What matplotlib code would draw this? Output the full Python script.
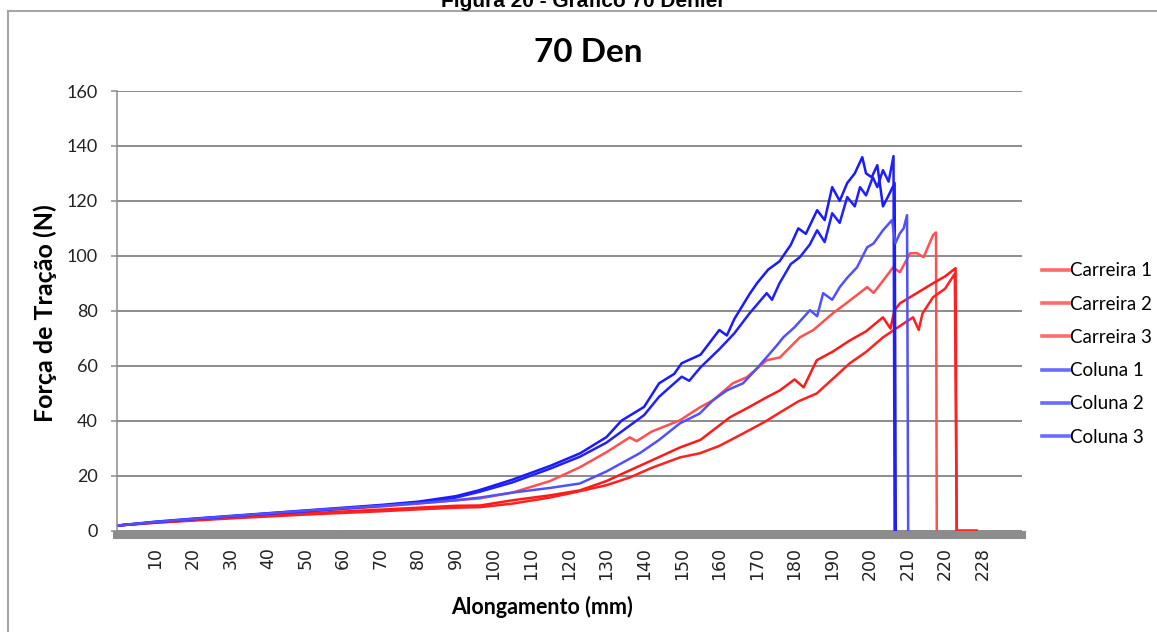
"""
plot.py

Tensile test curves for the 70 denier yarn: traction force against elongation,
three "Carreira" samples (red) and three "Coluna" samples (blue).
Writes out.png.
"""

import matplotlib.pyplot as plt
from matplotlib.lines import Line2D

OUT_PATH = "out.png"

# Elongation (mm) / force (N)
carreira1_x = [0, 10, 20, 30, 40, 50, 60, 70, 80, 90, 96.4, 105, 115, 122.9, 130, 136.2,
               138, 142, 149.5, 154.8, 158.3, 163.6, 167.3, 172.6, 176.1, 181.4, 185,
               190.2, 194, 199.3, 201, 203, 206.2, 208, 210.7, 212.5, 214.3, 216.8,
               217.6, 217.8]
carreira1_y = [1.8, 3.0, 4.0, 5.0, 6.0, 6.9, 7.8, 8.7, 9.8, 11.0, 11.7, 13.8, 18.0, 23.0,
               28.5, 33.9, 32.5, 36.0, 40.1, 44.8, 47.4, 53.6, 55.8, 62.0, 63.0, 70.3,
               73.0, 79.1, 83.0, 88.6, 86.5, 90.0, 95.8, 94.0, 100.9, 101.0, 99.5, 107.5,
               108.5, 0]

carreira2_x = [0, 10, 20, 30, 40, 50, 60, 70, 80, 90, 96.4, 105, 115, 122.9, 130, 136.2,
               142, 149.5, 155, 162.8, 168, 172.6, 176.1, 180, 182.4, 185.9, 190, 194.7,
               199, 203.5, 205.5, 206.5, 208, 212, 216.8, 220, 222.8, 223.1]
carreira2_y = [1.8, 2.9, 3.8, 4.6, 5.4, 6.2, 6.9, 7.6, 8.3, 9.0, 9.1, 11.0, 12.8, 14.6,
               18.0, 21.9, 25.5, 30.2, 33.0, 41.2, 45.0, 48.5, 51.0, 55.0, 52.1, 62.0,
               65.0, 69.2, 72.5, 77.6, 73.5, 80.0, 82.7, 86.0, 90.0, 92.5, 95.5, 0]

carreira3_x = [0, 10, 20, 30, 40, 50, 60, 70, 80, 90, 96.4, 105, 115, 122.9, 130, 136.2,
               142, 149.5, 154.8, 160, 166.3, 172, 177, 181, 185.9, 190, 194.7, 199,
               203.5, 207.5, 211.5, 213, 214, 216.8, 220, 222.6, 223.1, 228.4]
carreira3_y = [1.8, 2.8, 3.6, 4.4, 5.1, 5.8, 6.4, 7.0, 7.7, 8.3, 8.5, 9.8, 12.0, 14.3,
               16.5, 19.3, 22.8, 26.6, 28.1, 30.8, 35.3, 39.5, 43.7, 47.0, 49.9, 55.0,
               60.9, 65.0, 70.3, 74.0, 77.6, 73.0, 79.0, 84.9, 88.0, 93.5, 0, 0]

coluna1_x = [0, 10, 20, 30, 40, 50, 60, 70, 80, 90, 96, 105, 115, 123, 130, 134, 140,
             144, 148, 150, 155, 160, 162, 164, 168, 170, 173, 176, 179, 181, 183, 186,
             188, 190, 192, 194, 196, 198, 199, 200.5, 202, 203.5, 205, 206.6, 206.9]
coluna1_y = [1.8, 3.2, 4.3, 5.3, 6.3, 7.3, 8.3, 9.3, 10.5, 12.5, 14.6, 18.5, 23.5, 28.1,
             34.0, 40.0, 45.0, 53.6, 57.0, 60.9, 64.0, 73.0, 71.0, 77.0, 86.0, 90.0,
             95.0, 98.0, 104.0, 110.0, 108.0, 116.6, 113.0, 125.0, 120.0, 126.5, 130.0,
             135.9, 130.0, 128.6, 133.0, 118.0, 122.0, 126.5, 0]

coluna2_x = [0, 10, 20, 30, 40, 50, 60, 70, 80, 90, 96, 105, 115, 123, 130, 134, 140,
             144, 150, 152, 155, 160, 164, 168, 172.6, 174, 176, 179, 181.4, 184, 186,
             188, 190, 192, 194, 196, 197.4, 199, 200.8, 202, 203.5, 205, 206.3, 206.6]
coluna2_y = [1.8, 3.0, 4.1, 5.1, 6.1, 7.0, 8.0, 9.0, 10.2, 12.0, 14.0, 17.5, 22.5, 26.9,
             32.0, 36.0, 42.0, 48.7, 56.0, 54.5, 59.4, 66.0, 71.8, 79.0, 86.4, 84.0,
             90.0, 97.0, 99.5, 104.0, 109.3, 105.0, 115.5, 112.0, 121.4, 118.0, 125.0,
             122.0, 128.6, 125.0, 131.2, 127.0, 136.3, 0]

coluna3_x = [0, 10, 20, 30, 40, 50, 60, 70, 80, 90, 96.4, 105, 115, 122.9, 130, 138.8,
             144, 149.5, 154.8, 158.3, 162, 166.3, 170, 175.3, 177, 180, 184.1, 186,
             187.6, 190, 192, 194, 196.6, 199.3, 201, 203.5, 205.9, 206.8, 208, 209,
             209.9, 210.2]
coluna3_y = [1.8, 3.1, 4.2, 5.2, 6.2, 7.2, 8.1, 9.0, 9.9, 11.0, 12.0, 13.8, 15.5, 17.1,
             21.5, 28.1, 33.0, 39.0, 42.6, 47.4, 51.0, 53.6, 59.0, 67.4, 70.3, 74.0,
             80.2, 78.0, 86.4, 84.0, 88.6, 92.0, 95.8, 103.1, 104.5, 109.3, 113.0,
             104.6, 108.2, 110.0, 114.8, 0]

series_labels = ["Carreira 1", "Carreira 2", "Carreira 3", "Coluna 1", "Coluna 2", "Coluna 3"]

x_ticks = [10, 20, 30, 40, 50, 60, 70, 80, 90, 100, 110, 120, 130, 140, 150, 160, 170,
           180, 190, 200, 210, 220, 230]
x_tick_labels = ["10", "20", "30", "40", "50", "60", "70", "80", "90", "100", "110",
                 "120", "130", "140", "150", "160", "170", "180", "190", "200", "210",
                 "220", "228"]
y_ticks = [0, 20, 40, 60, 80, 100, 120, 140, 160]

W, H = 1157, 632
GRID = "#8c8c8c"
FONT = ["Lato", "DejaVu Sans"]


def main():
    fig = plt.figure(figsize=(W / 100, H / 100), dpi=100)
    ax = fig.add_axes([117.4 / W, 1 - 530.5 / H, 904.6 / W, 439.5 / H])

    colors = ["#ff4f4f", "#ff1a1a", "#ff2020", "#1a1aff", "#2020ff", "#5050ff"]
    data = [(carreira1_x, carreira1_y), (carreira2_x, carreira2_y),
            (carreira3_x, carreira3_y), (coluna1_x, coluna1_y),
            (coluna2_x, coluna2_y), (coluna3_x, coluna3_y)]
    for (xs, ys), c, lab in zip(data, colors, series_labels):
        ax.plot(xs, ys, color=c, lw=1.8, label=lab, solid_joinstyle="round")

    # spines first: set_position resets the ticks
    for s in ("top", "right"):
        ax.spines[s].set_visible(False)
    ax.spines["left"].set_color(GRID)
    ax.spines["left"].set_linewidth(1.1)
    # thick grey floor under the zero line
    ax.spines["bottom"].set_position(("outward", 2.9))
    ax.spines["bottom"].set_linewidth(5.8)
    ax.spines["bottom"].set_color(GRID)

    ax.set_xlim(0, 904.6 / 3.762)
    ax.set_ylim(0, 160)
    ax.set_xticks(x_ticks)
    ax.set_xticklabels(x_tick_labels, fontsize=12.5, family="DejaVu Sans",
                       color="#222222", rotation=90)
    ax.set_yticks(y_ticks)
    ax.set_yticklabels([str(v) for v in y_ticks], fontsize=13, family=FONT,
                       color="#222222")
    ax.tick_params(axis="x", length=0, pad=9)
    ax.tick_params(axis="y", length=4, width=1.1, color=GRID, pad=10)
    ax.yaxis.grid(True, color=GRID, lw=1.4)

    legend_colors = ["#ff6b6b", "#ff6b6b", "#ff6b6b", "#6b6bff", "#6b6bff", "#6b6bff"]
    handles = [Line2D([], [], color=c, lw=2.6) for c in legend_colors]
    fig.legend(handles, series_labels, loc="center left",
               bbox_to_anchor=(1041.7 / W, 1 - 354 / H), frameon=False,
               borderpad=0, borderaxespad=0, handlelength=1.44, handletextpad=0.05,
               labelspacing=0.87, prop={"family": FONT, "size": 13.5})

    fig.text(588.5 / W, 1 - 62 / H, "70 Den", ha="center", va="baseline",
             fontsize=24, fontweight="bold", family=FONT)
    fig.text(542 / W, 1 - 607 / H, "Alongamento (mm)", ha="center", va="center",
             fontsize=15.5, fontweight="bold", family=FONT)
    fig.text(45 / W, 1 - 313 / H, "Força de Tração (N)", ha="center", va="center",
             rotation=90, fontsize=18, fontweight="bold", family=FONT)

    # caption of the page, cut off at the top edge as in the source page
    fig.text(583 / W, 1 - 7 / H, "Figura 20 - Gráfico 70 Denier", ha="center",
             va="baseline", fontsize=15, fontweight="bold",
             family=["Liberation Sans", "DejaVu Sans"])

    # outer chart frame
    fig.add_artist(Line2D([8 / W, 1], [1 - 11 / H, 1 - 11 / H], color="#a6a6a6",
                          lw=1.5, transform=fig.transFigure))
    fig.add_artist(Line2D([8 / W, 8 / W], [0, 1 - 11 / H], color="#a6a6a6",
                          lw=1.5, transform=fig.transFigure))

    fig.savefig(OUT_PATH, dpi=100)
    plt.close(fig)


if __name__ == "__main__":
    main()
